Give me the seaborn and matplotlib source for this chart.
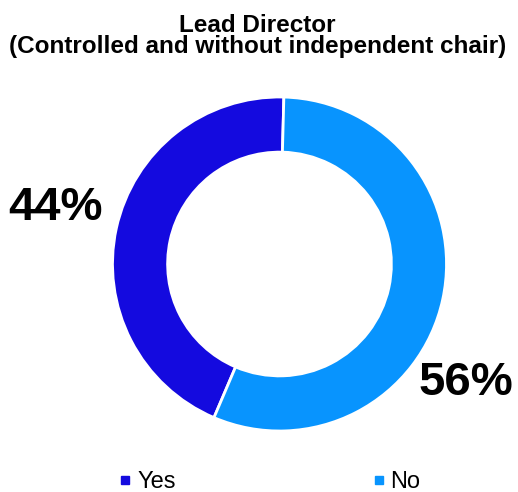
import matplotlib
matplotlib.use("Agg")
import matplotlib.pyplot as plt
from matplotlib.lines import Line2D
import seaborn as sns

# Share of controlled companies without an independent chair that have a lead director
categories = ["Yes", "No"]
shares = [44, 56]
colors = ["#140ADF", "#0894FE"]
title_lines = ["Lead Director", "(Controlled and without independent chair)"]

sns.set_theme(style="white")
plt.rcParams["font.family"] = ["Liberation Sans", "DejaVu Sans"]
plt.rcParams["text.color"] = "black"

W, H, DPI = 518, 492, 100
fig = plt.figure(figsize=(W / DPI, H / DPI), dpi=DPI)

# donut placement in pixels
cx, cy, r = 279.5, 264.0, 167.0
ax = fig.add_axes([(cx - r) / W, (H - cy - r) / H, 2 * r / W, 2 * r / H])
wedges, _ = ax.pie(
    shares,
    colors=colors,
    startangle=88.5,
    counterclock=True,
    radius=1.0,
    wedgeprops=dict(width=0.33, edgecolor="white", linewidth=2),
)
ax.set_xlim(-1, 1)
ax.set_ylim(-1, 1)
ax.set_aspect("equal")
ax.axis("off")

# percentage labels outside the ring
label_pos = [(-1.344, 0.335), (1.117, -0.71)]
for (lx, ly), v in zip(label_pos, shares):
    ax.text(lx, ly, f"{v}%", ha="center", va="center", fontsize=34,
            fontweight="bold", color="black", clip_on=False)

for ty, line in zip([25, 47], title_lines):
    fig.text(0.497, 1 - ty / H, line, ha="center", va="center", fontsize=17.5,
             fontweight="bold", color="black")

handles = [Line2D([0], [0], marker="s", linestyle="none", markersize=6,
                  markerfacecolor=c, markeredgecolor=c) for c in colors]
leg = fig.legend(handles, categories, loc="center", bbox_to_anchor=(0.52, 1 - 482 / H),
                 ncol=2, frameon=False, fontsize=17, handlelength=0.6,
                 handletextpad=0.2, columnspacing=8.3)
for t in leg.get_texts():
    t.set_color("black")

fig.savefig("out.png", dpi=DPI, facecolor="white")
